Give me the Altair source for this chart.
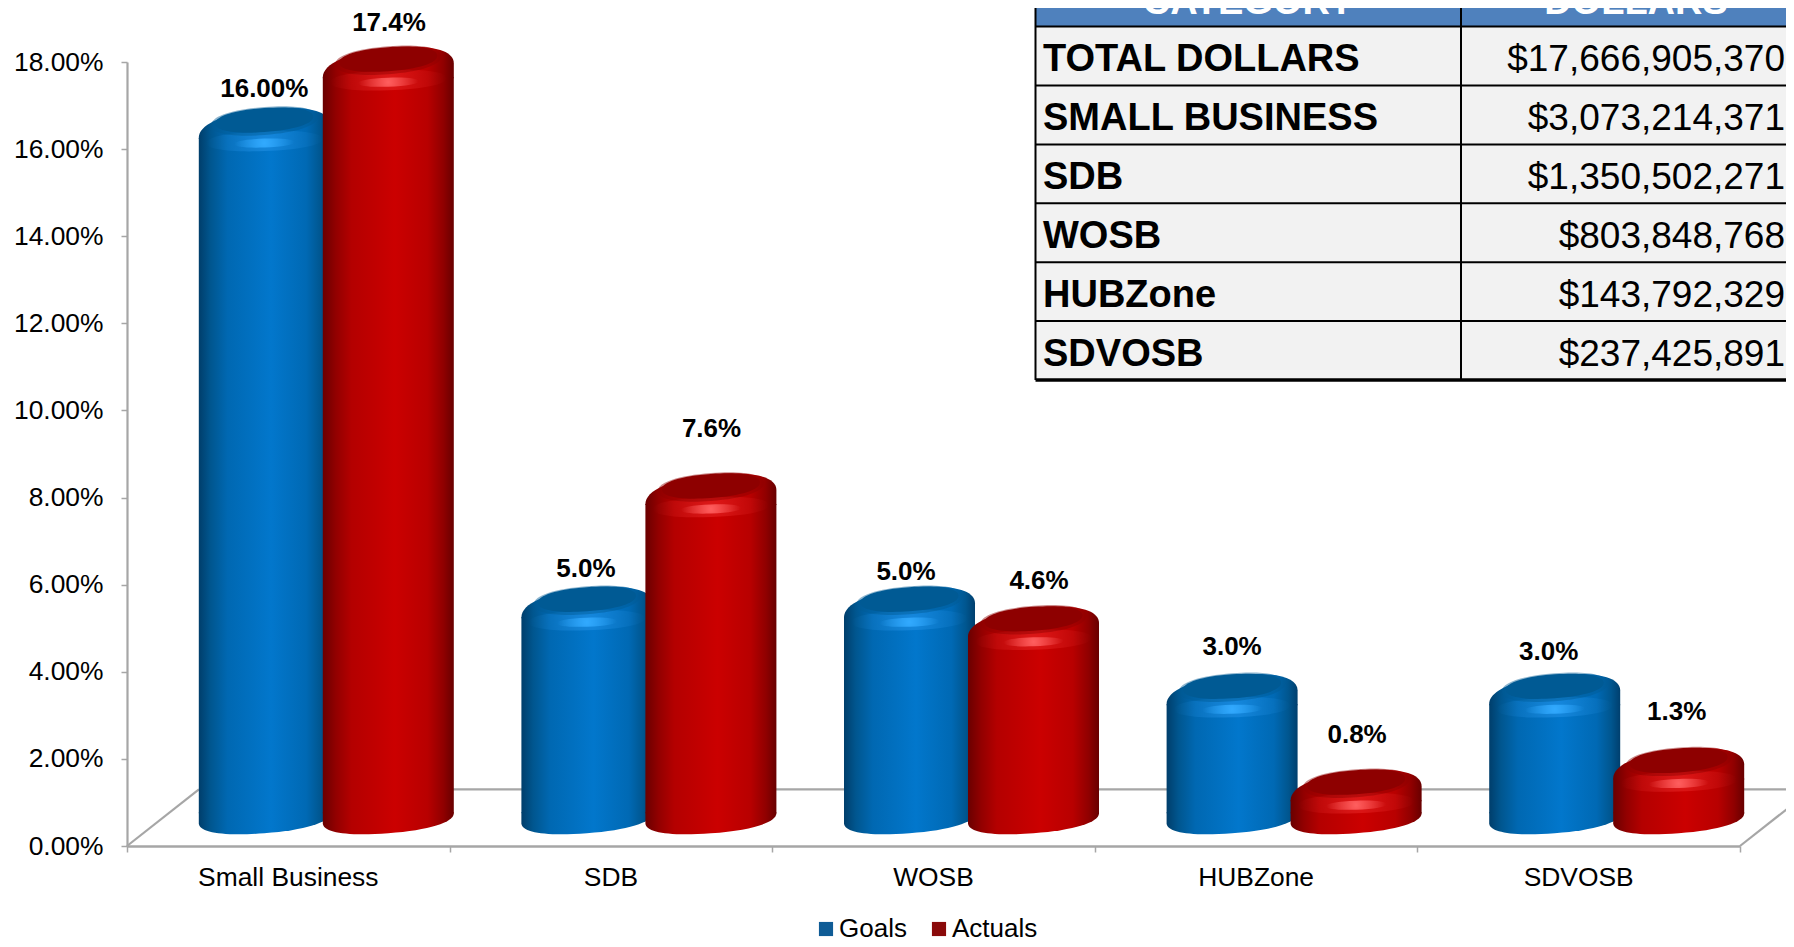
import altair as alt
import pandas as pd

# ---- chart values ----
categories = ["Small Business", "SDB", "WOSB", "HUBZone", "SDVOSB"]
goals = [16.0, 5.0, 5.0, 3.0, 3.0]
actuals = [17.4, 7.6, 4.55, 0.8, 1.3]
goal_labels = ["16.00%", "5.0%", "5.0%", "3.0%", "3.0%"]
actual_labels = ["17.4%", "7.6%", "4.6%", "0.8%", "1.3%"]
series_names = ["Goals", "Actuals"]
y_ticks = [0, 2, 4, 6, 8, 10, 12, 14, 16, 18]

table_headers = ["CATEGORY", "DOLLARS"]
table_categories = ["TOTAL DOLLARS", "SMALL BUSINESS", "SDB", "WOSB", "HUBZone", "SDVOSB"]
table_dollars = ["$17,666,905,370", "$3,073,214,371", "$1,350,502,271",
                 "$803,848,768", "$143,792,329", "$237,425,891"]

# ---- layout / style (not data) ----
FONT = "Liberation Sans"
GREY = "#a6a6a6"
PLOT_W, PLOT_H = 1613, 784
BAR_W = 131
A = BAR_W / 2
goal_dx, actual_dx = -24, 100
goal_nudge_x = [0, -1, -3.5, 0, -6]
goal_nudge_y = [-60, -59.5, -56, -68.7, -63]
actual_nudge_x = [0.7, 0.6, 5.5, 1, -2]
actual_nudge_y = [-65.5, -85.7, -66.5, -76.6, -77.5]


def n(v):
    return f"{v:.2f}"


def ellipse(a, b, s, k=0.62):
    """Closed sheared ellipse: right end lifted by s, left end dropped by s."""
    def P(x, y):
        return f"{n(x)},{n(y - s * x / a)}"
    return (f"M{P(-a, 0)}C{P(-a, -k*b)} {P(-k*a, -b)} {P(0, -b)}"
            f"C{P(k*a, -b)} {P(a, -k*b)} {P(a, 0)}"
            f"C{P(a, k*b)} {P(k*a, b)} {P(0, b)}"
            f"C{P(-k*a, b)} {P(-a, k*b)} {P(-a, 0)}Z")


def top_cap(a, b, s, k=0.62):
    def P(x, y):
        return f"{n(x)},{n(y - s * x / a)}"
    return (f"M{P(-a, 0)}C{P(-a, -k*b)} {P(-k*a, -b)} {P(0, -b)}"
            f"C{P(k*a, -b)} {P(a, -k*b)} {P(a, 0)}L{n(a)},{n(s + 1)}L{n(-a)},{n(s + 1)}Z")


def bottom_cap(a, b, s, k=0.62):
    def P(x, y):
        return f"{n(x)},{n(y - s * x / a)}"
    return (f"M{P(a, 0)}C{P(a, k*b)} {P(k*a, b)} {P(0, b)}"
            f"C{P(-k*a, b)} {P(-a, k*b)} {P(-a, 0)}L{n(-a)},{n(-s - 1)}L{n(a)},{n(-s - 1)}Z")


def lin(stops):
    return alt.LinearGradient(
        gradient="linear", x1=0, x2=1, y1=0, y2=0,
        stops=[alt.GradientStop(offset=o, color=c) for o, c in stops])


def rad(stops):
    return alt.RadialGradient(
        gradient="radial", x1=0.5, y1=0.5, x2=0.5, y2=0.5, r1=0, r2=0.5,
        stops=[alt.GradientStop(offset=o, color=c) for o, c in stops])


styles = {
    "Goals": dict(
        body=lin([(0, "#003e6b"), (0.09, "#00568f"), (0.22, "#0068b2"),
                  (0.55, "#0277cc"), (0.82, "#0069b4"), (0.93, "#00568f"), (1, "#003f6e")]),
        dark="#005a94", mid="rgba(0,90,148,0.45)",
        halo="rgba(40,150,235,0.55)", halo0="rgba(40,150,235,0)",
        spot="rgba(50,170,255,1)", spot0="rgba(50,170,255,0)",
    ),
    "Actuals": dict(
        body=lin([(0, "#6a0000"), (0.1, "#920000"), (0.22, "#b40000"),
                  (0.55, "#cb0000"), (0.8, "#b80000"), (0.92, "#900000"), (1, "#680000")]),
        dark="#8e0000", mid="rgba(142,0,0,0.45)",
        halo="rgba(240,50,50,0.5)", halo0="rgba(240,50,50,0)",
        spot="rgba(255,95,95,1)", spot0="rgba(255,95,95,0)",
    ),
}

x_band = alt.X("category:N", title=None, axis=None,
               sort=categories,
               scale=alt.Scale(type="band", domain=categories, paddingInner=0, paddingOuter=0))
y_val = alt.Y("value:Q", title=None, axis=None,
              scale=alt.Scale(domain=[0, 18], nice=False))

bar_layers = []


def add_series(name, values, labels, dx, nudge_x, nudge_y):
    st = styles[name]
    df = pd.DataFrame({"category": categories, "value": values, "zero": [0] * len(values)})
    base = alt.Chart(df).encode(x=x_band)

    bottom = alt.Chart(df.assign(value=0)).encode(x=x_band, y=y_val).mark_point(
        shape=bottom_cap(A, 15, 5), size=4, filled=True, fill=st["body"], opacity=1,
        strokeWidth=0, xOffset=dx, yOffset=-27.7)
    body = base.encode(y=y_val, y2=alt.Y2("zero:Q")).mark_bar(
        width=BAR_W, fill=st["body"], xOffset=dx, yOffset=-11, y2Offset=-32.7)
    cap = base.encode(y=y_val).mark_point(
        shape=top_cap(A, 22, 7), size=4, filled=True, fill=st["body"], opacity=1,
        strokeWidth=0, xOffset=dx, yOffset=-18)
    halo = base.encode(y=y_val).mark_point(
        shape=ellipse(58, 10, 2), size=4, filled=True, opacity=1, strokeWidth=0,
        fill=rad([(0, st["halo"]), (1, st["halo0"])]), xOffset=dx, yOffset=-8)
    mid = base.encode(y=y_val).mark_point(
        shape=ellipse(53, 14, 4), size=4, filled=True, fill=st["mid"], opacity=1,
        strokeWidth=0, xOffset=dx, yOffset=-28)
    dark = base.encode(y=y_val).mark_point(
        shape=ellipse(49, 12, 3.5), size=4, filled=True, fill=st["dark"], opacity=1,
        strokeWidth=0, xOffset=dx, yOffset=-29)
    spot = base.encode(y=y_val).mark_point(
        shape=ellipse(30, 4.5, 1), size=4, filled=True, opacity=1, strokeWidth=0,
        fill=rad([(0, st["spot"]), (1, st["spot0"])]), xOffset=dx, yOffset=-6)
    bar_layers.extend([bottom, body, cap, halo, mid, dark, spot])

    texts = []
    for i, lab in enumerate(labels):
        t = alt.Chart(pd.DataFrame({"category": [categories[i]], "value": [values[i]], "label": [lab]})
                      ).mark_text(font=FONT, fontSize=26, fontWeight="bold", color="#000000",
                                  dx=dx + nudge_x[i], dy=nudge_y[i]
                      ).encode(x=x_band, y=y_val, text="label:N")
        texts.append(t)
    return texts


label_layers = []
label_layers += add_series("Goals", goals, goal_labels, goal_dx, goal_nudge_x, goal_nudge_y)
label_layers += add_series("Actuals", actuals, actual_labels, actual_dx, actual_nudge_x, actual_nudge_y)

# category labels (band axis), on a layer of their own
cat_axis = alt.Chart(pd.DataFrame({"category": categories, "value": [0] * 5})).mark_point(opacity=0).encode(
    x=alt.X("category:N", title=None, sort=categories,
            scale=alt.Scale(type="band", domain=categories, paddingInner=0, paddingOuter=0),
            axis=alt.Axis(orient="bottom", ticks=False, domain=False, labelAngle=0, labelFont=FONT,
                          labelFontSize=26.4, labelColor="#000000", labelPadding=18, grid=False,
                          labelOverlap=False, labelLimit=400)),
    y=y_val,
)

# legend carried by an invisible layer
legend_layer = alt.Chart(pd.DataFrame({"category": categories[:2], "value": [0, 0], "series": series_names})
                         ).mark_point(opacity=0, filled=True, shape="square").encode(
    x=x_band, y=y_val,
    color=alt.Color("series:N", title=None, sort=series_names,
                    scale=alt.Scale(domain=series_names, range=["#0f5c96", "#8a0a0a"]),
                    legend=alt.Legend(orient="none", legendX=686, legendY=854, direction="horizontal",
                                      title=None, symbolType="square", symbolSize=200, symbolOpacity=1,
                                      labelFont=FONT, labelFontSize=26, labelColor="#000000",
                                      labelOffset=0, columnPadding=19, symbolStrokeWidth=0)),
)

bars = alt.layer(legend_layer, *bar_layers, *label_layers)

# ---- floor frame and value axis, in category units / percent ----
DEPTH_X, DEPTH_Y = 0.223, 1.3
floor = pd.DataFrame({
    "seg": ["l", "l", "b", "b", "r", "r"],
    "u": [0, DEPTH_X, DEPTH_X, 5 + DEPTH_X, 5, 5 + DEPTH_X],
    "v": [0, DEPTH_Y, DEPTH_Y, DEPTH_Y, 0, DEPTH_Y],
})
frame = alt.Chart(floor).mark_line(color=GREY, strokeWidth=2.2).encode(
    x=alt.X("u:Q", title=None, scale=alt.Scale(domain=[0, 5], nice=False),
            axis=alt.Axis(orient="bottom", values=[0, 1, 2, 3, 4, 5], labels=False, grid=False,
                          tickSize=6, tickColor=GREY, tickWidth=1.5,
                          domainColor=GREY, domainWidth=2.6)),
    y=alt.Y("v:Q", title=None, scale=alt.Scale(domain=[0, 18], nice=False),
            axis=alt.Axis(orient="left", values=y_ticks, grid=False, tickSize=6, tickColor=GREY,
                          tickWidth=1.5, domainColor=GREY, domainWidth=2.2, labelFont=FONT,
                          labelFontSize=26.4, labelColor="#000000", labelPadding=18,
                          labelExpr="format(datum.value, '.2f') + '%'")),
    detail="seg:N",
)

# ---- table, on its own row / column scales ----
X_T = alt.Scale(domain=[0, 1, 2], range=[908.5, 1334, 1684], nice=False, zero=False)
Y_T = alt.Scale(domain=[0, 7], range=[-94.3, 318], nice=False, zero=False)
xq = lambda f: alt.X(f, title=None, axis=None, scale=X_T)
yq = lambda f: alt.Y(f, title=None, axis=None, scale=Y_T)

n_rows = len(table_categories)
header_df = pd.DataFrame({"c0": [0, 1], "c1": [1, 2], "r0": [0, 0], "r1": [1, 1],
                          "cx": [0.5, 1.5], "ry": [0.5, 0.5], "t": table_headers})
cells_df = pd.DataFrame({"c0": [0], "c1": [2], "r0": [1], "r1": [n_rows + 1]})
row_df = pd.DataFrame({"row": [i + 1.5 for i in range(n_rows)], "cat": table_categories,
                       "dol": table_dollars, "c0": [0] * n_rows, "c2": [2] * n_rows})
line_df = pd.DataFrame({"row": list(range(1, n_rows + 1)), "c0": [0] * n_rows, "c1": [2] * n_rows})
edge_df = pd.DataFrame({"row": [n_rows + 1], "c0": [0], "c1": [2]})
vert_df = pd.DataFrame({"col": [0, 1], "r0": [0, 0], "r1": [n_rows + 1, n_rows + 1]})

header_rect = alt.Chart(header_df).mark_rect(color="#4f81bd").encode(
    x=xq("c0:Q"), x2="c1:Q", y=yq("r0:Q"), y2="r1:Q")
cell_rect = alt.Chart(cells_df).mark_rect(color="#f2f2f2").encode(
    x=xq("c0:Q"), x2="c1:Q", y=yq("r0:Q"), y2="r1:Q")
h_lines = alt.Chart(line_df).mark_rule(color="#000000", strokeWidth=2).encode(
    x=xq("c0:Q"), x2="c1:Q", y=yq("row:Q"))
bot_line = alt.Chart(edge_df).mark_rule(color="#000000", strokeWidth=3.5).encode(
    x=xq("c0:Q"), x2="c1:Q", y=yq("row:Q"))
v_lines = alt.Chart(vert_df).mark_rule(color="#000000", strokeWidth=2).encode(
    x=xq("col:Q"), y=yq("r0:Q"), y2="r1:Q")
head_txt = alt.Chart(header_df).mark_text(font=FONT, fontSize=38, fontWeight="bold", color="#ffffff",
                                          baseline="middle", dy=6).encode(
    x=xq("cx:Q"), y=yq("ry:Q"), text="t:N")
cat_txt = alt.Chart(row_df).mark_text(font=FONT, fontSize=38, fontWeight="bold", color="#000000",
                                      align="left", baseline="middle", dx=7.5, dy=4).encode(
    x=xq("c0:Q"), y=yq("row:Q"), text="cat:N")
dol_txt = alt.Chart(row_df).mark_text(font=FONT, fontSize=37, color="#000000",
                                      align="right", baseline="middle", dx=-26, dy=4).encode(
    x=xq("c2:Q"), y=yq("row:Q"), text="dol:N")
table = alt.layer(header_rect, cell_rect, h_lines, bot_line, v_lines, head_txt, cat_txt, dol_txt)

chart = alt.layer(frame, cat_axis, bars, table).resolve_scale(
    x="independent", y="independent"
).resolve_axis(
    x="independent", y="independent"
).properties(
    width=PLOT_W, height=PLOT_H,
    padding={"left": 119, "top": 54, "right": 46, "bottom": 93},
    autosize=alt.AutoSizeParams(type="none"),
    background="#ffffff",
).configure_view(stroke=None)

chart.save("out.html", embed_options={"renderer": "svg", "actions": False})
